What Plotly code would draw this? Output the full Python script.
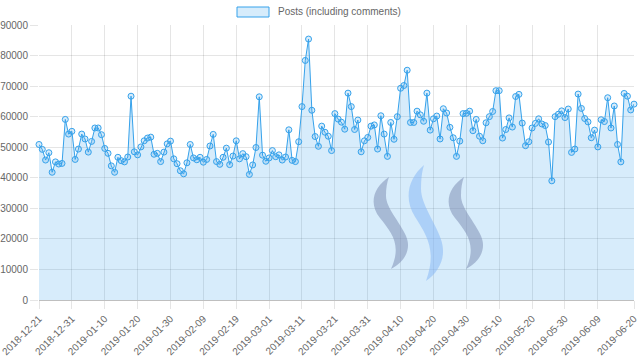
import pandas as pd
import plotly.graph_objects as go

start_date = "2018-12-21"
n_days = 182
dates = [d.strftime("%Y-%m-%d") for d in pd.date_range(start_date, periods=n_days, freq="D")]

posts = [
    50900, 49300, 45800, 48200, 41800, 45200, 44500, 44700, 59100, 54300,
    55200, 46000, 49400, 54300, 52700, 48400, 51900, 56300, 56300, 54100,
    49600, 48000, 43900, 41800, 46700, 45600, 45200, 46800, 66700, 48500,
    47500, 50100, 52100, 53000, 53300, 47700, 48000, 45300, 48400, 51100,
    52000, 46200, 44600, 42300, 41300, 44900, 50900, 46500, 45900, 46700,
    45100, 46000, 50400, 54200, 45300, 44400, 46700, 49700, 44300, 47100,
    52100, 46200, 47900, 46900, 41100, 44200, 49900, 66500, 47400, 45400,
    46500, 48900, 46900, 47500, 45800, 46800, 55700, 45700, 45300, 51800,
    63300, 78400, 85400, 62100, 53500, 50300, 56900, 54900, 53600, 48900,
    61000, 59200, 58200, 55900, 67700, 63300, 55800, 58900, 48500, 52100,
    53200, 56900, 57300, 49400, 60300, 54300, 47000, 58100, 52600, 60000,
    69300, 70200, 75200, 58100, 58100, 61800, 60600, 58500, 67700, 55600,
    59300, 60200, 52700, 62600, 61200, 56500, 53100, 47000, 52000, 61000,
    61100, 61800, 55400, 59100, 53600, 52100, 58000, 60000, 61700, 68500,
    68500, 53000, 55800, 59600, 56600, 66600, 67300, 57900, 50500, 51800,
    56300, 57800, 59300, 57600, 57100, 51700, 39000, 60000, 60800, 61900,
    59700, 62500, 48300, 49400, 67400, 62700, 59400, 58300, 53100, 55600,
    50100, 59000, 58400, 66200, 56300, 63500, 50900, 45200, 67600, 66700,
    62200, 64100,
]

series_name = "Posts (including comments)"
tick_labels = dates[0:171:10] + [dates[-1]]
y_ticks = list(range(0, 90001, 10000))

# plot area in pixels
L, R, T, B = 39, 634, 25, 300


def px(x, y):
    return (x - L) / (R - L), (B - y) / (B - T)


def path_from(cmds):
    out = []
    for c in cmds:
        op, pts = c[0], c[1:]
        coords = []
        for (x, y) in pts:
            X, Y = px(x, y)
            coords.append(f"{X:.5f},{Y:.5f}")
        out.append(op + " ".join(coords))
    return " ".join(out) + " Z"


def swoosh(dx=0, sy=1.0, cy=223):
    def p(x, y):
        return (x + dx, cy + (y - cy) * sy)
    return [
        ("M", p(389, 177)),
        ("C", p(374, 187), p(368, 203), p(380, 218)),
        ("C", p(392, 233), p(402, 245), p(391, 269)),
        ("C", p(404, 262), p(412, 250), p(406, 236)),
        ("C", p(400, 222), p(386, 208), p(386, 196)),
        ("C", p(386, 188), p(387, 182), p(389, 177)),
    ]


blue = "rgb(54,162,235)"
fill = "rgba(54,162,235,0.2)"

fig = go.Figure()
fig.add_trace(go.Scatter(
    x=dates, y=posts, name=series_name,
    mode="lines+markers", fill="tozeroy", fillcolor=fill,
    line=dict(color=blue, width=1),
    marker=dict(size=6, color="rgba(54,162,235,0.2)", line=dict(color=blue, width=1)),
    cliponaxis=False, showlegend=False,
))

shapes = [
    dict(type="path", xref="paper", yref="paper", layer="above",
         path=path_from(swoosh(0, 1.0)), fillcolor="rgba(120,135,175,0.5)", line=dict(width=0)),
    dict(type="path", xref="paper", yref="paper", layer="above",
         path=path_from(swoosh(35, 1.26)), fillcolor="rgba(130,180,245,0.5)", line=dict(width=0)),
    dict(type="path", xref="paper", yref="paper", layer="above",
         path=path_from(swoosh(75, 1.0)), fillcolor="rgba(120,135,175,0.5)", line=dict(width=0)),
]
# legend box
x0, y0 = px(237, 7)
x1, y1 = px(269, 17)
shapes.append(dict(type="rect", xref="paper", yref="paper", x0=x0, y0=y0, x1=x1, y1=y1,
                   fillcolor=fill, line=dict(color=blue, width=1)))
tx, ty = px(276, 12)

fig.update_layout(
    width=640, height=361,
    margin=dict(l=L, r=640 - R, t=T, b=361 - B, autoexpand=False),
    paper_bgcolor="white", plot_bgcolor="white",
    font=dict(family="Liberation Sans, Arial, sans-serif", size=10, color="#666"),
    showlegend=False,
    hovermode=False,
    shapes=shapes,
    annotations=[dict(text=series_name, xref="paper", yref="paper", x=tx, y=ty,
                      xanchor="left", yanchor="middle", showarrow=False,
                      font=dict(size=10, color="#666"))],
    xaxis=dict(type="category", range=[0, n_days - 1], tickmode="array",
               tickvals=tick_labels, ticktext=tick_labels, tickangle=-45,
               showgrid=True, gridcolor="rgba(0,0,0,0.1)", gridwidth=1,
               ticks="outside", ticklen=8, tickcolor="rgba(0,0,0,0.1)",
               showline=False, zeroline=False, automargin=False,
               tickfont=dict(size=10, color="#666")),
    yaxis=dict(range=[0, 90000], tickvals=y_ticks, tickformat="d",
               showgrid=True, gridcolor="rgba(0,0,0,0.1)", gridwidth=1,
               ticks="outside", ticklen=8, tickcolor="rgba(0,0,0,0.1)",
               zeroline=True, zerolinecolor="rgba(0,0,0,0.25)", zerolinewidth=1,
               showline=False, automargin=False,
               tickfont=dict(size=10, color="#666")),
)

fig.write_html("out.html", config={"displayModeBar": False, "staticPlot": True},
               post_script="document.body.style.margin='0';document.body.style.overflow='hidden';")
